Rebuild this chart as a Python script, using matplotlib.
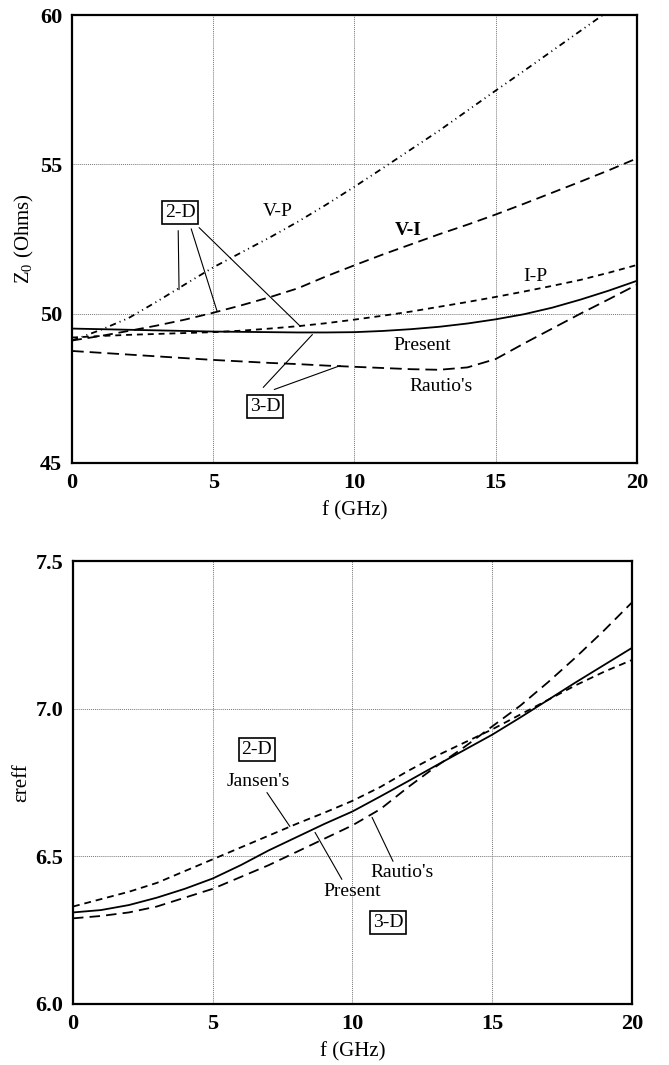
import matplotlib
matplotlib.use("Agg")
import matplotlib.pyplot as plt

plt.rcParams['font.family'] = ['Liberation Serif', 'DejaVu Serif']
plt.rcParams['mathtext.fontset'] = 'custom'
plt.rcParams['mathtext.rm'] = 'Liberation Serif'

# ---------------- data: top panel (Z0 vs f) ----------------
f_top = [0, 1, 2, 3, 4, 5, 6, 7, 8, 9, 10, 11, 12, 13, 14, 15, 16, 17, 18, 19, 20]
z_present = [49.50, 49.48, 49.46, 49.44, 49.42, 49.40, 49.39, 49.38, 49.37, 49.37, 49.38,
             49.42, 49.48, 49.56, 49.67, 49.81, 49.98, 50.20, 50.47, 50.77, 51.10]
z_ip = [49.20, 49.25, 49.29, 49.32, 49.35, 49.38, 49.43, 49.50, 49.58, 49.68, 49.80,
        49.93, 50.07, 50.23, 50.39, 50.56, 50.74, 50.93, 51.13, 51.37, 51.63]
z_vi = [49.10, 49.25, 49.42, 49.60, 49.80, 50.03, 50.28, 50.55, 50.85, 51.25, 51.62,
        51.98, 52.32, 52.66, 52.98, 53.32, 53.68, 54.05, 54.42, 54.80, 55.20]
z_vp = [49.10, 49.45, 49.85, 50.40, 50.98, 51.55, 52.05, 52.55, 53.08, 53.65, 54.25,
        54.87, 55.50, 56.13, 56.80, 57.47, 58.13, 58.80, 59.47, 60.14, 60.80]
z_rautio = [48.75, 48.69, 48.63, 48.57, 48.51, 48.45, 48.40, 48.35, 48.31, 48.26, 48.22,
            48.18, 48.14, 48.12, 48.20, 48.48, 49.00, 49.50, 50.00, 50.48, 50.97]

# ---------------- data: bottom panel (eps_reff vs f) ----------------
f_bot = [0, 1, 2, 3, 4, 5, 6, 7, 8, 9, 10, 11, 12, 13, 14, 15, 16, 17, 18, 19, 20]
e_present = [6.310, 6.318, 6.335, 6.360, 6.390, 6.425, 6.470, 6.520, 6.565, 6.610, 6.652,
             6.703, 6.755, 6.808, 6.860, 6.912, 6.970, 7.030, 7.090, 7.148, 7.206]
e_jansen = [6.330, 6.355, 6.380, 6.410, 6.450, 6.490, 6.530, 6.570, 6.610, 6.648, 6.688,
            6.735, 6.790, 6.840, 6.885, 6.930, 6.980, 7.030, 7.080, 7.125, 7.165]
e_rautio = [6.290, 6.298, 6.310, 6.330, 6.360, 6.390, 6.430, 6.470, 6.515, 6.560, 6.605,
            6.660, 6.735, 6.805, 6.870, 6.940, 7.010, 7.090, 7.175, 7.265, 7.360]

x_ticks = [0, 5, 10, 15, 20]
top_yticks = [45, 50, 55, 60]
bot_yticks = [6.0, 6.5, 7.0, 7.5]
bot_yticklabels = ['6.0', '6.5', '7.0', '7.5']

fig = plt.figure(figsize=(6.69, 10.65), dpi=100)
ax1 = fig.add_axes([0.1076, 0.5653, 0.8445, 0.4206])
ax2 = fig.add_axes([0.1091, 0.0573, 0.8356, 0.4159])

LW = 1.3


def style_axes(ax):
    for s in ax.spines.values():
        s.set_linewidth(1.6)
        s.set_color('black')
    ax.tick_params(length=0, pad=7, labelsize=16)
    for lab in ax.get_xticklabels() + ax.get_yticklabels():
        lab.set_fontweight('bold')
    ax.grid(True, linestyle=(0, (1, 1)), color='#777777', linewidth=0.7)
    ax.set_axisbelow(True)


# ---------------- top panel ----------------
ax1.plot(f_top, z_present, color='black', lw=LW, solid_capstyle='butt')
ax1.plot(f_top, z_ip, color='black', lw=LW, dashes=(3.3, 2.7))
ax1.plot(f_top, z_vi, color='black', lw=LW, dashes=(5.5, 3.2))
ax1.plot(f_top, z_vp, color='black', lw=LW, dashes=(3.5, 2.2, 0.6, 2.2, 0.6, 2.2))
ax1.plot(f_top, z_rautio, color='black', lw=LW, dashes=(6.5, 3.3))
ax1.set_xlim(0, 20)
ax1.set_ylim(45, 60)
ax1.set_xticks(x_ticks)
ax1.set_yticks(top_yticks)
style_axes(ax1)
ax1.set_xlabel('f (GHz)', fontsize=15, labelpad=6)
ax1.set_ylabel(r'Z$_\mathregular{0}$ (Ohms)', fontsize=15, labelpad=3)

box = dict(boxstyle='square,pad=0.15', fc='white', ec='black', lw=1.2)
ax1.text(3.83, 53.38, '2-D', fontsize=14, ha='center', va='center', bbox=box)
ax1.text(6.84, 46.89, '3-D', fontsize=14, ha='center', va='center', bbox=box)
lead = dict(arrowstyle='-', lw=0.8, color='black', shrinkA=0, shrinkB=0)
for (x0, y0, x1, y1) in [(3.76, 52.78, 3.79, 50.80), (4.22, 52.84, 5.14, 50.07),
                         (4.50, 52.88, 8.09, 49.57), (6.77, 47.53, 8.51, 49.30),
                         (7.16, 47.46, 9.50, 48.26)]:
    ax1.annotate('', xy=(x1, y1), xytext=(x0, y0), arrowprops=lead)
ax1.text(7.27, 53.41, 'V-P', fontsize=14, ha='center', va='center')
ax1.text(11.91, 52.80, 'V-I', fontsize=14, ha='center', va='center', fontweight='bold')
ax1.text(16.42, 51.24, 'I-P', fontsize=14, ha='center', va='center')
ax1.text(12.41, 48.93, 'Present', fontsize=14, ha='center', va='center')
ax1.text(13.05, 47.56, "Rautio's", fontsize=14, ha='center', va='center')

# ---------------- bottom panel ----------------
ax2.plot(f_bot, e_present, color='black', lw=LW)
ax2.plot(f_bot, e_jansen, color='black', lw=LW, dashes=(3.8, 2.7))
ax2.plot(f_bot, e_rautio, color='black', lw=LW, dashes=(5.8, 3.4))
ax2.set_xlim(0, 20)
ax2.set_ylim(6.0, 7.5)
ax2.set_xticks(x_ticks)
ax2.set_yticks(bot_yticks)
ax2.set_yticklabels(bot_yticklabels)
style_axes(ax2)
ax2.set_xlabel('f (GHz)', fontsize=15, labelpad=6)
ax2.set_ylabel('εreff', fontsize=15, labelpad=3)

ax2.text(6.58, 6.861, '2-D', fontsize=14, ha='center', va='center', bbox=box)
ax2.text(11.27, 6.277, '3-D', fontsize=14, ha='center', va='center', bbox=box)
ax2.text(6.62, 6.753, "Jansen's", fontsize=14, ha='center', va='center')
ax2.text(9.98, 6.382, 'Present', fontsize=14, ha='center', va='center')
ax2.text(11.77, 6.446, "Rautio's", fontsize=14, ha='center', va='center')
for (x0, y0, x1, y1) in [(6.94, 6.716, 7.76, 6.601), (8.66, 6.581, 9.62, 6.422),
                         (10.70, 6.632, 11.45, 6.483)]:
    ax2.annotate('', xy=(x1, y1), xytext=(x0, y0), arrowprops=lead)

fig.savefig('out.png', dpi=100)
